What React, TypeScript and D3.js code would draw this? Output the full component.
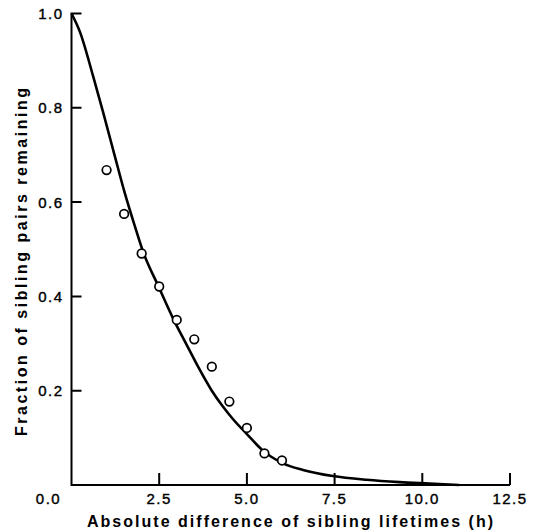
import React, { useEffect, useRef } from 'react';
import * as d3 from 'd3';

// observed sibling pairs (circles)
const obsDiff = [1.0, 1.5, 2.0, 2.5, 3.0, 3.5, 4.0, 4.5, 5.0, 5.5, 6.0];
const obsFrac = [0.668, 0.575, 0.491, 0.421, 0.35, 0.309, 0.251, 0.177, 0.121, 0.067, 0.052];

// fitted curve
const fitDiff = [0, 0.24, 0.62, 0.91, 1.24, 1.52, 1.81, 2.03, 2.5, 2.95, 3.25, 3.6, 4.0, 4.3, 4.6, 5.0, 5.44, 6.03, 6.6, 7.45, 8.41, 9.35, 10.2, 11.05];
const fitFrac = [1.0, 0.961, 0.866, 0.788, 0.696, 0.619, 0.548, 0.497, 0.418, 0.345, 0.302, 0.252, 0.2, 0.168, 0.14, 0.108, 0.074, 0.046, 0.032, 0.019, 0.011, 0.006, 0.003, 0.0];

const xTicks = [0, 2.5, 5.0, 7.5, 10.0, 12.5];
const yTicks = [0.2, 0.4, 0.6, 0.8, 1.0];

const xTitle = 'Absolute difference of sibling lifetimes (h)';
const yTitle = 'Fraction of sibling pairs remaining';

const W = 536, H = 531;
const font = '"Liberation Sans", Arial, sans-serif';

export default function App() {
  const ref = useRef<SVGSVGElement>(null);

  useEffect(() => {
    document.body.style.margin = '0';
    const svg = d3.select(ref.current);
    svg.selectAll('*').remove();

    const x = d3.scaleLinear().domain([0, 12.5]).range([71.5, 510]);
    const y = d3.scaleLinear().domain([0, 1]).range([485, 13.5]);
    const fmt = d3.format('.1f');

    // axes with inward ticks, drawn as one path
    let axisD = `M${x(0)},${y(1) - 1}V${y(0)}H${x(12.5)}`;
    xTicks.filter(d => d > 0).forEach(d => { axisD += `M${x(d)},${y(0)}v-12`; });
    yTicks.forEach(d => { axisD += `M${x(0)},${y(d)}h10`; });
    svg.append('path').attr('d', axisD)
      .attr('fill', 'none').attr('stroke', '#000').attr('stroke-width', 2);

    // x labels
    svg.append('g').selectAll('text').data(xTicks).join('text')
      .attr('x', d => x(d) + (d === 0 ? -23 : 0)).attr('y', y(0) + 19)
      .attr('text-anchor', 'middle')
      .attr('font-size', 15).attr('font-family', font).attr('letter-spacing', 1.5)
      .attr('stroke', '#000').attr('stroke-width', 0.4)
      .text(d => fmt(d));

    // y labels
    svg.append('g').selectAll('text').data(yTicks).join('text')
      .attr('x', x(0) - 8).attr('y', d => y(d)).attr('dy', '0.36em')
      .attr('text-anchor', 'end')
      .attr('font-size', 15).attr('font-family', font).attr('letter-spacing', 1.5)
      .attr('stroke', '#000').attr('stroke-width', 0.4)
      .text(d => fmt(d));

    // fitted curve
    const fit = fitDiff.map((d, i) => [d, fitFrac[i]] as [number, number]);
    const line = d3.line<[number, number]>()
      .x(d => x(d[0])).y(d => y(d[1]))
      .curve(d3.curveMonotoneX);
    svg.append('path').datum(fit).attr('d', line)
      .attr('fill', 'none').attr('stroke', '#000').attr('stroke-width', 2.6);

    // observed points
    svg.append('g').selectAll('circle').data(obsDiff).join('circle')
      .attr('cx', d => x(d)).attr('cy', (d, i) => y(obsFrac[i]))
      .attr('r', 4.3).attr('fill', '#fff').attr('stroke', '#000').attr('stroke-width', 1.7);

    // titles
    svg.append('text').attr('x', 87).attr('y', 527)
      .attr('textLength', 406).attr('lengthAdjust', 'spacing')
      .attr('font-size', 16).attr('font-weight', 'bold').attr('font-family', font)
      .text(xTitle);

    svg.append('text')
      .attr('transform', `translate(27,436) rotate(-90)`)
      .attr('textLength', 348).attr('lengthAdjust', 'spacing')
      .attr('font-size', 16).attr('font-weight', 'bold').attr('font-family', font)
      .text(yTitle);
  }, []);

  return <svg ref={ref} width={W} height={H} style={{ display: 'block', background: '#fff' }} />;
}
